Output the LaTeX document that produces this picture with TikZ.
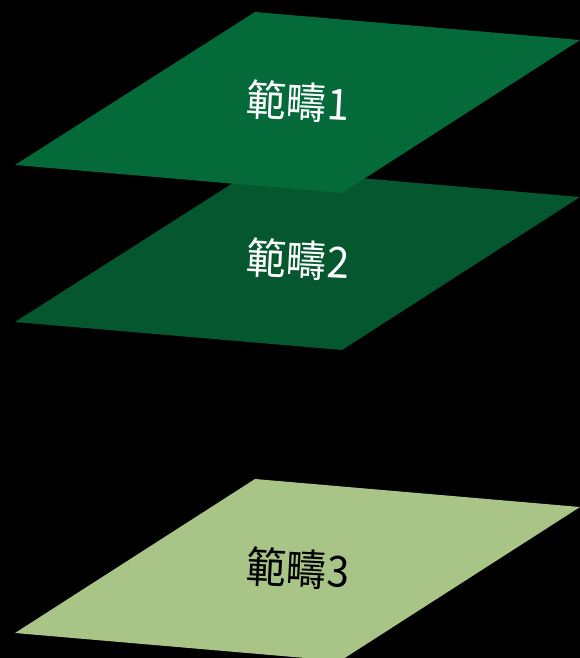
\documentclass[tikz,border=0pt]{standalone}
\usepackage{fontspec}
\newfontfamily\cjkfont{Noto Sans CJK TC}
\usepackage{tkz-euclide}
\usetikzlibrary{backgrounds}
\definecolor{layerone}{RGB}{4,106,58}
\definecolor{layertwo}{RGB}{5,87,47}
\definecolor{layerthree}{RGB}{169,196,135}

\begin{document}
\begin{tikzpicture}[x=1bp, y=-1bp, background rectangle/.style={fill=black}, show background rectangle, inner frame sep=0pt,
  layer label/.style={font=\cjkfont\fontsize{43}{45}\selectfont, rotate=-3, xscale=0.94, inner sep=0pt}]
  \useasboundingbox (0,0) rectangle (580,658);
  % Layer 3 (bottom)
  \tkzDefPoint(15,633){A3}
  \tkzDefPoint(255,479){B3}
  \tkzDefPoint(580,507){C3}
  \tkzDefPoint(340,661){D3}
  \tkzFillPolygon[fill = layerthree](A3,B3,C3,D3)
  % Layer 2
  \tkzDefPoint(15,322){A2}
  \tkzDefPoint(255,169){B2}
  \tkzDefPoint(580,197){C2}
  \tkzDefPoint(342,350){D2}
  \tkzFillPolygon[fill = layertwo](A2,B2,C2,D2)
  % Layer 1 (top)
  \tkzDefPoint(15,165){A1}
  \tkzDefPoint(255,12){B1}
  \tkzDefPoint(580,40){C1}
  \tkzDefPoint(342,193){D1}
  \tkzFillPolygon[fill = layerone](A1,B1,C1,D1)
  % Labels
  \node[layer label, text=white] (cat1) at (298,102) {範疇1};
  \node[layer label, text=white] (cat2) at (298,260) {範疇2};
  \node[layer label, text=black] (cat3) at (298,569) {範疇3};
\end{tikzpicture}
\end{document}
